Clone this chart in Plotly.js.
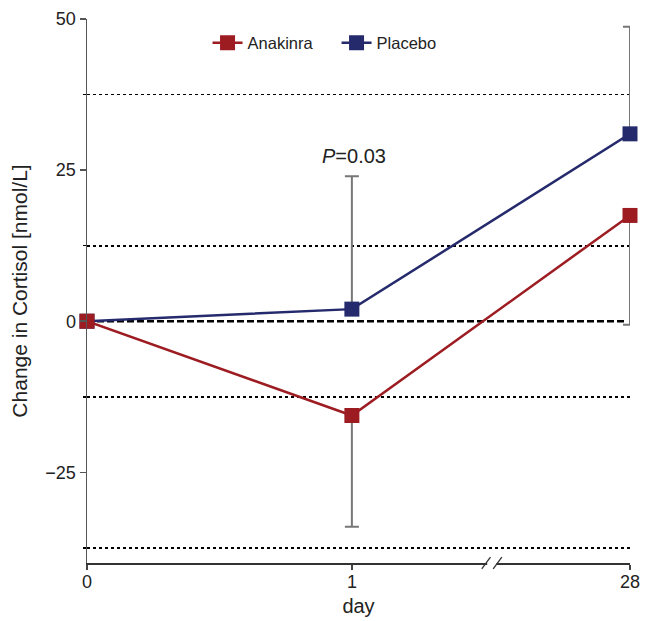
<!DOCTYPE html>
<html>
<head>
<meta charset="utf-8">
<script src="https://cdn.plot.ly/plotly-3.0.1.min.js"></script>
<style>html,body{margin:0;padding:0;background:#fff;}#chart{width:645px;height:621px;}</style>
</head>
<body>
<div id="chart"></div>
<script>
// Data
const dayLabels = ['0', '1', '28'];
const dayPos = [0, 1, 2.05];            // broken axis: day 28 drawn after the break
const anakinra = [0, -15.6, 17.5];
const anakinraErrUp = [0, 0, 0];
const anakinraErrDown = [0, 18.4, 18.1];
const placebo = [0, 2, 31];
const placeboErrUp = [0, 22, 17.7];
const placeboErrDown = [0, 0, 0];
const yTickVals = [-25, 0, 25, 50];
const yTickText = ['\u221225', '0', '25', '50'];
const gridVals = [-37.5, -12.5, 12.5, 37.5];
const pAnnot = {x: 1, y: 27.3, text: '<i>P</i>=0.03'};

const red = '#9c1c22';
const navy = '#252a6c';
const errColor = '#777777';
const ff = 'Liberation Sans, Arial, sans-serif';

const traces = [
  {
    x: dayPos, y: placebo, name: 'Placebo', type: 'scatter', mode: 'lines+markers',
    line: {color: navy, width: 2.5},
    marker: {symbol: 'square', size: 15, color: navy},
    error_y: {type: 'data', symmetric: false, array: placeboErrUp, arrayminus: placeboErrDown,
      color: errColor, thickness: 2, width: 7},
    cliponaxis: false, legendrank: 2
  },
  {
    x: dayPos, y: anakinra, name: 'Anakinra', type: 'scatter', mode: 'lines+markers',
    line: {color: red, width: 2.5},
    marker: {symbol: 'square', size: 15, color: red},
    error_y: {type: 'data', symmetric: false, array: anakinraErrUp, arrayminus: anakinraErrDown,
      color: errColor, thickness: 2, width: 7},
    cliponaxis: false, legendrank: 1
  }
];

const xMax = dayPos[dayPos.length - 1];

const layout = {
  width: 645, height: 621,
  margin: {l: 87, r: 15, t: 19, b: 58},
  paper_bgcolor: '#fff', plot_bgcolor: '#fff',
  font: {family: ff, size: 18, color: '#222'},
  showlegend: true,
  legend: {orientation: 'h', x: 0.222, y: 0.956, xanchor: 'left', yanchor: 'middle',
    font: {family: ff, size: 16.5, color: '#222'}, bgcolor: 'rgba(0,0,0,0)', itemwidth: 30,
    entrywidth: 84, entrywidthmode: 'pixels'},
  xaxis: {
    range: [0, xMax], showgrid: false, zeroline: false,
    tickmode: 'array', tickvals: dayPos, ticktext: dayLabels,
    ticks: 'outside', ticklen: 5, tickwidth: 1.5, tickcolor: '#444',
    showline: true, linecolor: '#333', linewidth: 1.5, ticklabelstandoff: -3,
    tickfont: {family: ff, size: 18, color: '#222'},
    title: {text: 'day', font: {family: ff, size: 20, color: '#222'}, standoff: 8},
    fixedrange: true
  },
  yaxis: {
    range: [-40, 50], zeroline: false, showgrid: false,
    tickmode: 'array', tickvals: yTickVals, ticktext: yTickText,
    ticks: 'outside', ticklen: 6, tickwidth: 1.5, tickcolor: '#555',
    showline: true, linecolor: '#555', linewidth: 1.5,
    tickfont: {family: ff, size: 18, color: '#222'},
    title: {text: 'Change in Cortisol [nmol/L]', font: {family: ff, size: 21, color: '#222'}, standoff: 12},
    minor: {tickmode: 'array', tickvals: gridVals, ticks: 'outside', ticklen: 3, tickcolor: '#000',
      showgrid: true, gridcolor: '#000', gridwidth: 1.8, griddash: 'dot'},
    fixedrange: true
  },
  shapes: [
    {type: 'line', xref: 'x', yref: 'y', x0: 0, x1: xMax * 0.992, y0: 0, y1: 0,
      line: {color: '#000', width: 2.5, dash: '7px,3px'}, layer: 'below'},
    // axis break marks
    {type: 'rect', xref: 'paper', yref: 'paper', x0: 0.737, x1: 0.754, y0: -0.006, y1: 0.006,
      fillcolor: '#fff', line: {width: 0}, layer: 'above'},
    {type: 'line', xref: 'paper', yref: 'paper', x0: 0.727, x1: 0.743, y0: -0.011, y1: 0.011,
      line: {color: '#333', width: 1.3}},
    {type: 'line', xref: 'paper', yref: 'paper', x0: 0.748, x1: 0.764, y0: -0.011, y1: 0.011,
      line: {color: '#333', width: 1.3}}
  ],
  annotations: [
    {x: pAnnot.x, y: pAnnot.y, xref: 'x', yref: 'y', text: pAnnot.text, showarrow: false,
      xshift: 2, font: {family: ff, size: 20, color: '#222'}}
  ]
};

Plotly.newPlot('chart', traces, layout, {displayModeBar: false, staticPlot: true});
</script>
</body>
</html>
